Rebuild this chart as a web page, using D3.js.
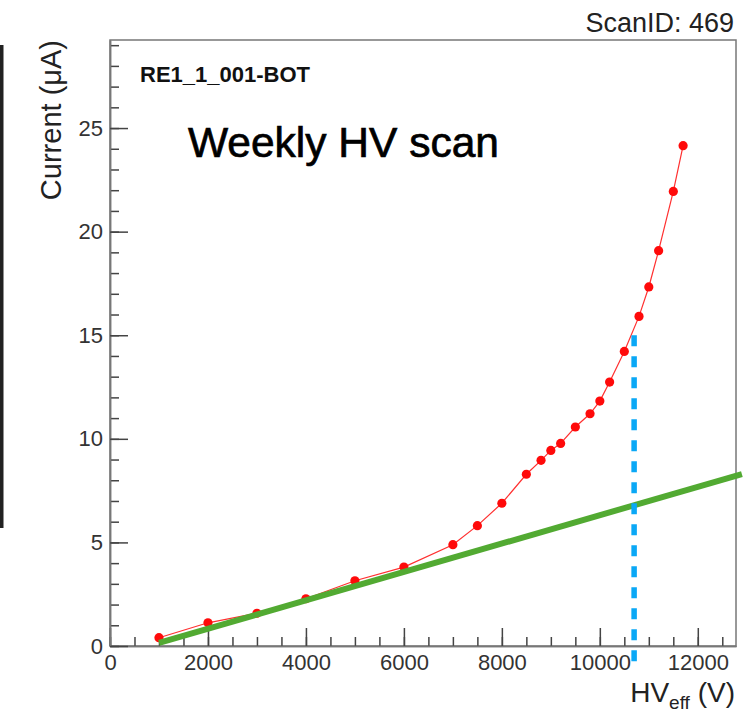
<!DOCTYPE html>
<html>
<head>
<meta charset="utf-8">
<script src="https://cdn.jsdelivr.net/npm/d3@7"></script>
<style>
  body { margin: 0; background: #fff; }
  text { font-family: "Liberation Sans", Arial, Helvetica, sans-serif; }
</style>
</head>
<body>
<div id="hvscan"></div>
<script>

// HV scan points (V, uA)
var hv_eff = [1000, 2000, 3000, 4000, 5000, 6000, 7000, 7500, 8000, 8500, 8800, 9000, 9200, 9500, 9800, 10000, 10200, 10500, 10800, 11000, 11200, 11500, 11700];
var current = [0.40, 1.12, 1.58, 2.28, 3.15, 3.81, 4.89, 5.81, 6.89, 8.29, 8.96, 9.44, 9.78, 10.57, 11.21, 11.82, 12.74, 14.22, 15.91, 17.33, 19.08, 21.94, 24.15];

// linear part (green) and working point (blue)
var fit_x = [1000, 12900];
var fit_y = [0.15, 8.30];
var wp_x = [10700, 10700];
var wp_y = [15, -1.06];

var x_ticks = [0, 2000, 4000, 6000, 8000, 10000, 12000];
var y_ticks = [0, 5, 10, 15, 20, 25];

var margin = { top: 40, right: 19, bottom: 70, left: 110 },
    width = 755 - margin.left - margin.right,
    height = 716 - margin.top - margin.bottom;

var x = d3.scaleLinear().domain([0, 12780]).range([0, width]);
var y = d3.scaleLinear().domain([0, 29.25]).range([height, 0]);

var root = d3.select("#hvscan")
    .append("svg")
    .attr("width", 755)
    .attr("height", 716);

root.append("rect").attr("width", 755).attr("height", 716).attr("fill", "#fff");

// dark bar on the left edge
root.append("rect")
    .attr("x", 0).attr("y", 45)
    .attr("width", 3.5).attr("height", 483)
    .attr("fill", "#222");

var svg = root.append("g")
    .attr("transform", "translate(" + margin.left + "," + margin.top + ")");

// frame
svg.append("rect")
    .attr("width", width).attr("height", height)
    .attr("fill", "none")
    .attr("stroke", "#777")
    .attr("stroke-width", 1.5);

// minor ticks
svg.append("g")
    .attr("class", "x minor")
    .attr("transform", "translate(0," + height + ")")
    .call(d3.axisBottom(x).tickValues(d3.range(0, 12780, 500)).tickSizeInner(-9).tickSizeOuter(0).tickFormat(""));

svg.append("g")
    .attr("class", "y minor")
    .call(d3.axisLeft(y).tickValues(d3.range(0, 29.5, 1)).tickSizeInner(-9).tickSizeOuter(0).tickFormat(""));

// major ticks + labels
svg.append("g")
    .attr("class", "x axis")
    .attr("transform", "translate(0," + height + ")")
    .call(d3.axisBottom(x).tickValues(x_ticks).tickSizeInner(-18).tickSizeOuter(0).tickPadding(8).tickFormat(d3.format("d")));

svg.append("g")
    .attr("class", "y axis")
    .call(d3.axisLeft(y).tickValues(y_ticks).tickSizeInner(-18).tickSizeOuter(0).tickPadding(7).tickFormat(d3.format("d")));

svg.selectAll(".axis text, .minor text")
    .style("font-family", '"Liberation Sans", Arial, sans-serif')
    .style("font-size", "22px")
    .attr("fill", "#333");
svg.selectAll(".axis .domain, .minor .domain")
    .attr("stroke", "#777").attr("stroke-width", 1.5);
svg.selectAll(".axis .tick line, .minor .tick line")
    .attr("stroke", "#444").attr("stroke-width", 1.5);

// data line + markers
var pts = hv_eff.map(function(d, i) { return [d, current[i]]; });

var line = d3.line()
    .x(function(d) { return x(d[0]); })
    .y(function(d) { return y(d[1]); });

svg.append("path")
    .datum(pts)
    .attr("d", line)
    .attr("fill", "none")
    .attr("stroke", "#ff3030")
    .attr("stroke-width", 1.2);

svg.selectAll("circle")
    .data(pts)
    .enter().append("circle")
    .attr("cx", function(d) { return x(d[0]); })
    .attr("cy", function(d) { return y(d[1]); })
    .attr("r", 4.6)
    .style("fill", "#ff0a0a");

// linear fit (green)
svg.append("path")
    .datum(fit_x.map(function(d, i) { return [d, fit_y[i]]; }))
    .attr("d", line)
    .attr("stroke", "#52aa32")
    .attr("stroke-width", 6);

// working point (blue dashed)
svg.append("path")
    .datum(wp_x.map(function(d, i) { return [d, wp_y[i]]; }))
    .attr("d", line)
    .attr("stroke", "#0aa8f6")
    .attr("stroke-width", 5.5)
    .attr("stroke-dasharray", "11,10");

// texts
svg.append("text")
    .attr("x", 30).attr("y", 42)
    .style("font-size", "22px")
    .style("font-weight", "700")
    .attr("fill", "#111")
    .text("RE1_1_001-BOT");

svg.append("text")
    .attr("x", 78).attr("y", 117)
    .style("font-size", "42.5px")
    .attr("fill", "#000")
    .attr("stroke", "#000")
    .attr("stroke-width", 0.7)
    .text("Weekly HV scan");

root.append("text")
    .attr("x", 734).attr("y", 32)
    .attr("text-anchor", "end")
    .style("font-size", "27px")
    .attr("fill", "#222")
    .text("ScanID: 469");

root.append("text")
    .attr("transform", "translate(61,40) rotate(-90)")
    .attr("text-anchor", "end")
    .style("font-size", "29px")
    .attr("fill", "#222")
    .text("Current (\u03bcA)");

var xl = root.append("text")
    .attr("x", 735).attr("y", 702)
    .attr("text-anchor", "end")
    .style("font-size", "28px")
    .attr("fill", "#222");
xl.append("tspan").text("HV");
xl.append("tspan").attr("dy", 7).style("font-size", "19px").text("eff");
xl.append("tspan").attr("dy", -7).text(" (V)");

</script>
</body>
</html>
